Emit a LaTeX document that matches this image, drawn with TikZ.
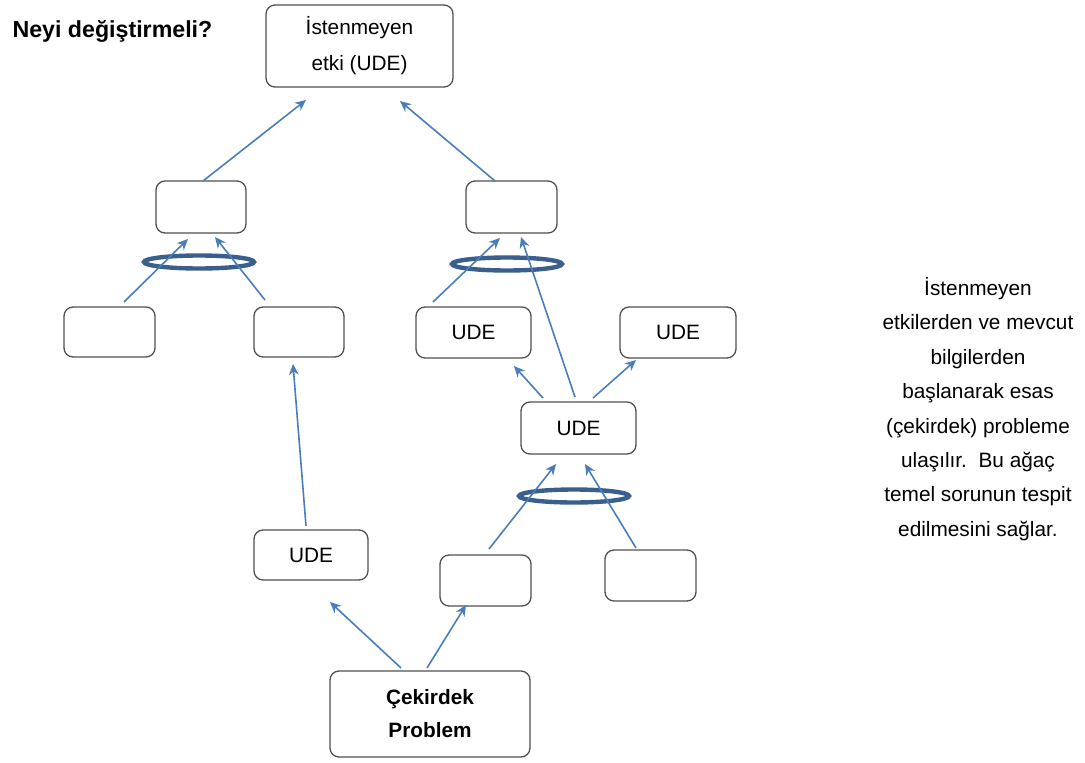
\documentclass[tikz,border=0pt]{standalone}
\usepackage{fontspec}
\setmainfont{Liberation Sans}
\usetikzlibrary{arrows.meta,shapes.geometric}
\definecolor{arrowblue}{HTML}{4A7EBB}
\definecolor{ringblue}{HTML}{3A5F8D}
\definecolor{boxline}{HTML}{505050}
\begin{document}
\begin{tikzpicture}[x=1pt,y=-1pt,
  box/.style={draw=boxline,line width=1.3pt,rounded corners=9pt,fill=white,
    inner sep=0pt,align=center,font=\fontsize{20.8}{36}\selectfont},
  ring/.style={ellipse,draw=ringblue,line width=4.4pt,inner sep=0pt,
    minimum width=110pt,minimum height=13pt},
  link/.style={draw=arrowblue,line width=1.6pt,
    -{Stealth[length=11pt,width=10pt]}}]
\useasboundingbox (0,0) rectangle (1085,763);

% title
\node[anchor=west,font=\fontsize{23.2}{26}\selectfont\bfseries] (title) at (9,31) {Neyi değiştirmeli?};

% boxes: centre, width, height
\node[box,minimum width=187pt,minimum height=82pt] (top) at (359.5,46) {İstenmeyen\\etki (UDE)};
\node[box,minimum width=90pt,minimum height=52pt] (l1) at (201,207) {};
\node[box,minimum width=91pt,minimum height=52pt] (r1) at (511.5,207) {};
\node[box,minimum width=91pt,minimum height=50pt] (ll) at (109.5,332) {};
\node[box,minimum width=90pt,minimum height=50pt] (lr) at (299,332) {};
\node[box,minimum width=115pt,minimum height=51pt] (rl) at (473.5,332.5) {UDE};
\node[box,minimum width=116pt,minimum height=51pt] (rr) at (678,332.5) {UDE};
\node[box,minimum width=115pt,minimum height=52pt] (rm) at (578.5,428) {UDE};
\node[box,minimum width=114pt,minimum height=50pt] (lu) at (311,555) {UDE};
\node[box,minimum width=91pt,minimum height=51pt] (bm) at (485.5,580.5) {};
\node[box,minimum width=91pt,minimum height=51pt] (br) at (650.5,575.5) {};
\node[box,minimum width=200pt,minimum height=86pt,font=\fontsize{20.8}{33}\selectfont\bfseries] (core) at (430,714) {Çekirdek\\Problem};

% AND rings
\node[ring] (ringL) at (199,262) {};
\node[ring] (ringR) at (507,264) {};
\node[ring] (ringB) at (574,496) {};

% arrow end points
\coordinate (a1s) at (203,181);  \coordinate (a1e) at (306,100);
\coordinate (a2s) at (495,181);  \coordinate (a2e) at (400,101);
\coordinate (a3s) at (124,302);  \coordinate (a3e) at (188,239);
\coordinate (a4s) at (265,300);  \coordinate (a4e) at (215,237);
\coordinate (a5s) at (433,302);  \coordinate (a5e) at (500,238);
\coordinate (a6s) at (575,397);  \coordinate (a6e) at (521,237);
\coordinate (a7s) at (543,398);  \coordinate (a7e) at (514,366);
\coordinate (a8s) at (593,398);  \coordinate (a8e) at (636,360);
\coordinate (a9s) at (306,526);  \coordinate (a9e) at (293,364);
\coordinate (a10s) at (489,549); \coordinate (a10e) at (556,464);
\coordinate (a11s) at (636,548); \coordinate (a11e) at (585,464);
\coordinate (a12s) at (401,668); \coordinate (a12e) at (330,602);
\coordinate (a13s) at (427,668); \coordinate (a13e) at (466,605);

% cause-effect arrows
\draw[link] (a1s) -- (a1e);
\draw[link] (a2s) -- (a2e);
\draw[link] (a3s) -- (a3e);
\draw[link] (a4s) -- (a4e);
\draw[link] (a5s) -- (a5e);
\draw[link] (a6s) -- (a6e);
\draw[link] (a7s) -- (a7e);
\draw[link] (a8s) -- (a8e);
\draw[link] (a9s) -- (a9e);
\draw[link] (a10s) -- (a10e);
\draw[link] (a11s) -- (a11e);
\draw[link] (a12s) -- (a12e);
\draw[link] (a13s) -- (a13e);

% explanatory note
\node[align=center,font=\fontsize{20.8}{34.4}\selectfont] (note) at (978,409)
  {İstenmeyen\\etkilerden ve mevcut\\bilgilerden\\başlanarak esas\\(çekirdek) probleme\\ulaşılır.\ \ Bu ağaç\\temel sorunun tespit\\edilmesini sağlar.};
\end{tikzpicture}
\end{document}
